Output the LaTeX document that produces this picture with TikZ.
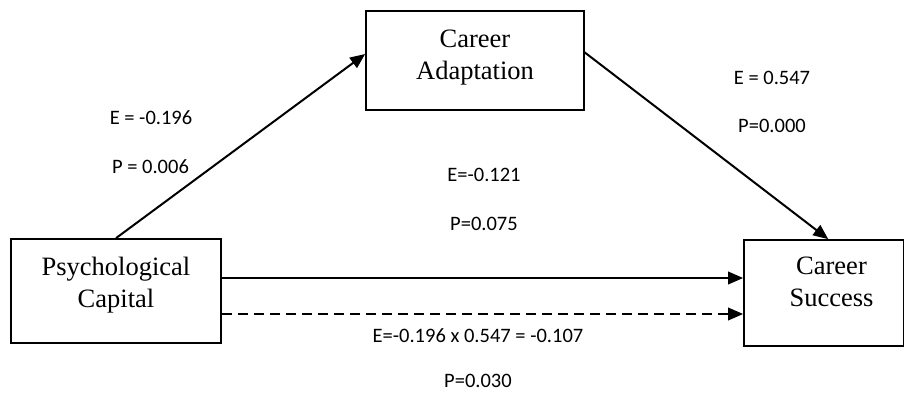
\documentclass[tikz,border=0pt]{standalone}
\usepackage{fontspec}
\setmainfont{Liberation Serif}
\newfontfamily\lblfont{Carlito}
\usetikzlibrary{arrows.meta}
\begin{document}
\begin{tikzpicture}[x=1pt,y=-1pt,
  box/.style={draw, line width=1.7pt, inner sep=0pt},
  boxtext/.style={align=center, inner sep=0pt, font=\fontsize{26.5}{32}\selectfont},
  lbl/.style={inner sep=0pt, font=\lblfont\fontsize{20.5}{24}\selectfont},
  arr/.style={line width=2pt, -{Triangle[length=15pt,width=12.5pt]}},
  dasharr/.style={arr, dash pattern=on 10pt off 6pt}]
\fill[white] (0,0) rectangle (905,394);
\useasboundingbox (0,0) rectangle (905,394);

% boxes
\node[box, minimum width=210pt, minimum height=104pt] (pc) at (116,291) {};
\node[box, minimum width=218pt, minimum height=99pt] (ca) at (475,60.5) {};
\node[box, minimum width=159.5pt, minimum height=106pt] (cs) at (823.75,293) {};

% box texts
\node[boxtext] (pct) at (116,285.5) {Psychological\\Capital};
\node[boxtext] (cat) at (475,58) {Career\\Adaptation};
\node[boxtext] (cst) at (831.5,282) {Career\\Success};

% helper coordinates
\coordinate (ys) at (0,278);
\coordinate (yd) at (0,314);
\coordinate (ya) at (0,54);

% connectors
\draw[arr] (pc.north) -- (ca.west |- ya);
\draw[arr] ([yshift=8pt]ca.east) -- ([xshift=4.5pt]cs.north);
\draw[arr] (pc.east |- ys) -- (cs.west |- ys);
\draw[dasharr] (pc.east |- yd) -- (cs.west |- yd);

% labels
\node[lbl] (e1) at (151,117.5) {E = -0.196};
\node[lbl] (p1) at (150.5,166.7) {P = 0.006};
\node[lbl] (e2) at (772,77.5) {E = 0.547};
\node[lbl] (p2) at (772,126) {P=0.000};
\node[lbl] (e3) at (484,175.3) {E=-0.121};
\node[lbl] (p3) at (484,224.3) {P=0.075};
\node[lbl] (e4) at (478,335.3) {E=-0.196 x 0.547 = -0.107};
\node[lbl] (p4) at (478,381) {P=0.030};
\end{tikzpicture}
\end{document}
